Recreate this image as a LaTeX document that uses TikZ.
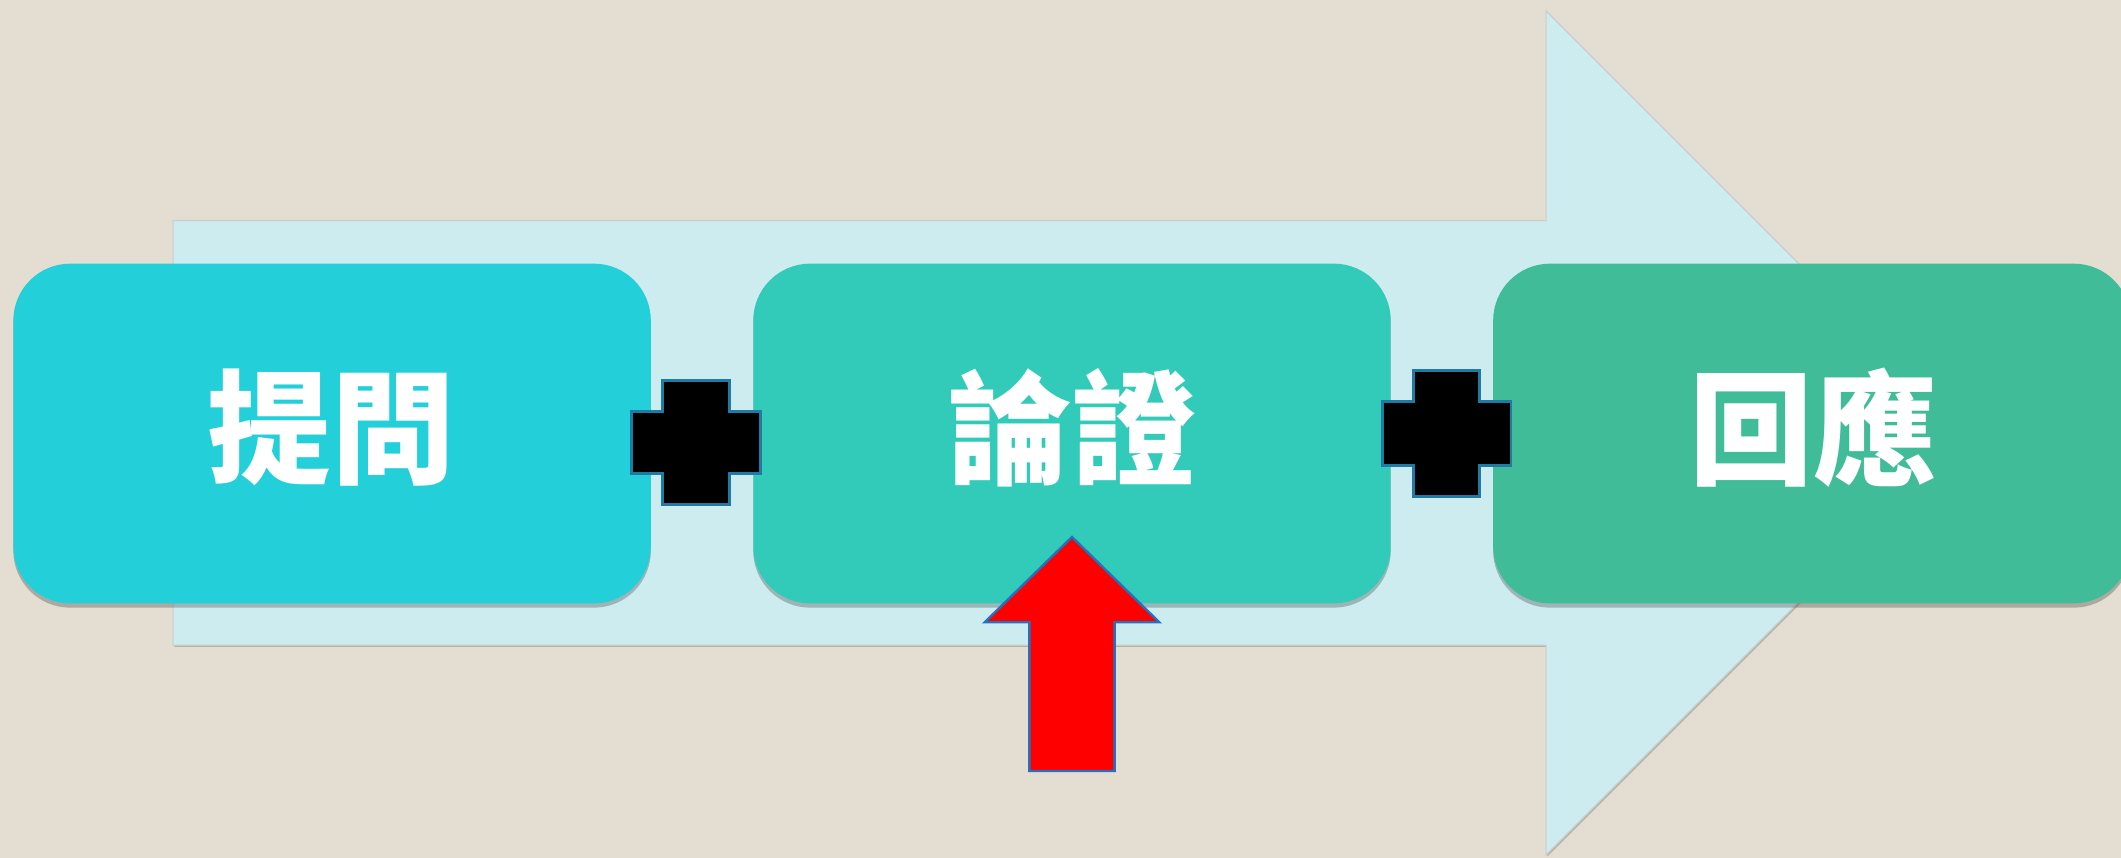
\documentclass[tikz,border=0pt]{standalone}
\usepackage{fontspec}
\newfontfamily\cjk{Noto Sans CJK TC}
\usetikzlibrary{shadows}
\definecolor{bg}{HTML}{E3DDD2}
\definecolor{bigarrow}{HTML}{CDECEF}
\definecolor{boxA}{HTML}{23D0DA}
\definecolor{boxB}{HTML}{32CAB9}
\definecolor{boxC}{HTML}{41BC99}
\definecolor{plusedge}{HTML}{1F7BA3}
\definecolor{arrowedge}{HTML}{2173C2}
\begin{document}
\begin{tikzpicture}[x=0.01cm,y=-0.01cm,
  stagebox/.style={rounded corners=0.42cm, minimum width=4.71cm, minimum height=2.51cm,
    inner sep=0pt, drop shadow={shadow xshift=0pt, shadow yshift=-0.9pt, opacity=0.3, fill=black!80}},
  stagetext/.style={text=white, inner sep=0pt, font=\cjk\bfseries\fontsize{26}{30}\selectfont},
  plussign/.style={fill=black, draw=plusedge, line width=0.6pt},
  uparrow/.style={fill=red, draw=arrowedge, line width=0.5pt},
  flowarrow/.style={fill=bigarrow, draw=gray!40, line width=0.25pt,
    drop shadow={shadow xshift=0.25pt, shadow yshift=-0.35pt, opacity=0.3, fill=black!70}}
]
\fill[bg] (0,0) rectangle (1568,634);
\useasboundingbox (0,0) rectangle (1568,634);

% big flow arrow
\path[flowarrow] (128,163) -- (1143,163) -- (1143,8) -- (1455,320) -- (1143,632)
  -- (1143,477) -- (128,477) -- cycle;

% stage boxes
\node[stagebox, fill=boxA] (ask) at (245.5,320.5) {};
\node[stagebox, fill=boxB] (argue) at (792.5,320.5) {};
\node[stagebox, fill=boxC] (reply) at (1339.5,320.5) {};

\node[stagetext] (askt) at (245,316) {提問};
\node[stagetext] (arguet) at (793,316) {論證};
\node[stagetext] (replyt) at (1340.5,316) {回應};

% plus signs
\path[plussign] (490,281) -- (539,281) -- (539,304) -- (562,304) -- (562,350) -- (539,350)
  -- (539,373) -- (490,373) -- (490,350) -- (467,350) -- (467,304) -- (490,304) -- cycle;
\path[plussign] (1045,274) -- (1094,274) -- (1094,297) -- (1117,297) -- (1117,344) -- (1094,344)
  -- (1094,367) -- (1045,367) -- (1045,344) -- (1022,344) -- (1022,297) -- (1045,297) -- cycle;

% red up arrow
\path[uparrow] (792.5,397) -- (857,460) -- (824,460) -- (824,570) -- (761,570) -- (761,460)
  -- (728,460) -- cycle;
\end{tikzpicture}
\end{document}
